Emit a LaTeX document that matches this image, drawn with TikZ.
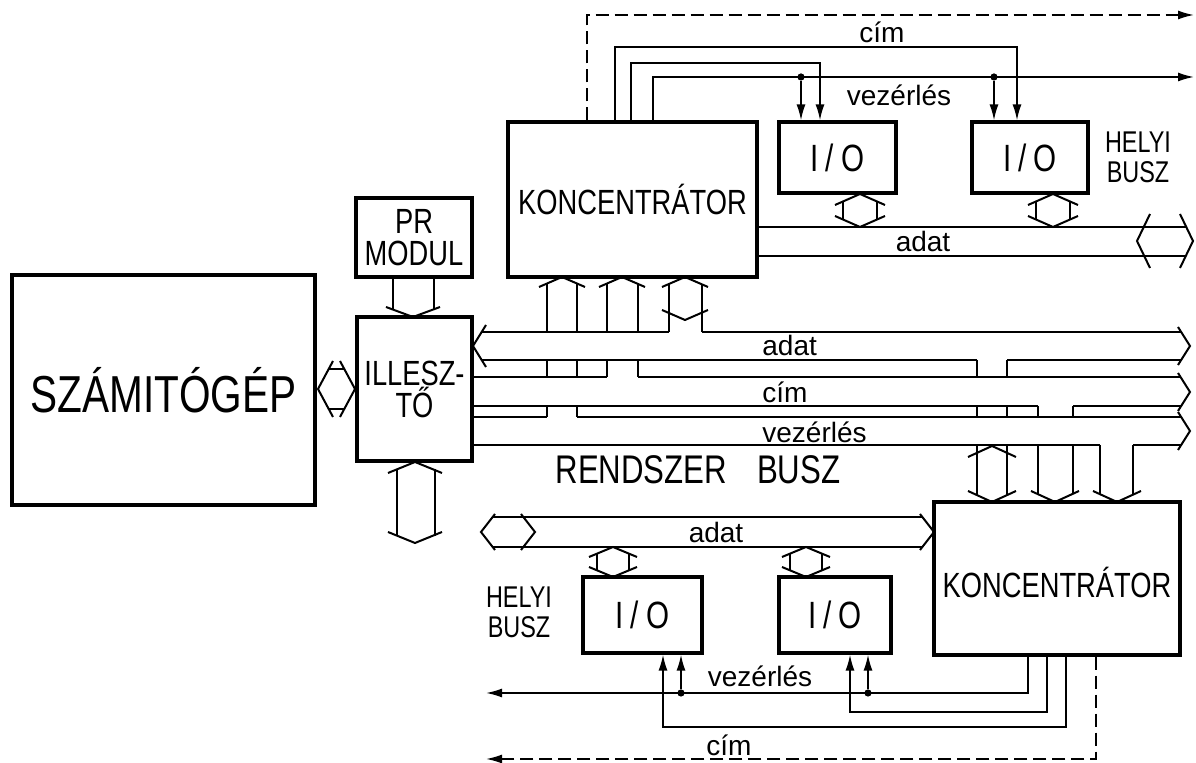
\documentclass[tikz,border=0pt]{standalone}
\usepackage{fontspec}
\setmainfont{Liberation Sans}
\newfontfamily\drawfont{Liberation Sans}[FakeStretch=0.78]
\usetikzlibrary{arrows.meta,fit}
\tikzset{
  % --- blocks ----------------------------------------------------------------
  blk/.style={draw,line width=1.6pt,inner sep=0pt},
  blktxt/.style={inner sep=0pt,align=center,
                 font=\drawfont\fontsize{17.5}{16}\selectfont},
  bigtxt/.style={blktxt,font=\drawfont\fontsize{26}{28}\selectfont},
  iotxt/.style={blktxt,font=\drawfont\fontsize{19}{20}\selectfont},
  % --- texts -----------------------------------------------------------------
  lbl/.style={inner sep=0pt,font=\fontsize{14}{16}\selectfont},
  capl/.style={inner sep=0pt,align=center,font=\drawfont\fontsize{15}{15}\selectfont},
  title/.style={inner sep=0pt,font=\drawfont\fontsize{20}{22}\selectfont},
  % --- lines -----------------------------------------------------------------
  bus/.style={line width=1pt},
  wire/.style={line width=0.85pt},
  sig/.style={wire,-{Latex[length=8pt,width=4.5pt]}},
  cue/.style={sig,dash pattern=on 6.5pt off 3pt},
  dot/.style={circle,fill,inner sep=0pt,minimum size=3.6pt},
}
% chevron heads of the wide bus arrows: tip (x,y), half spread, depth
\newcommand{\chv}[4]{\draw[bus] ({#1-(#3)},{#2+(#4)}) -- (#1,#2) -- ({#1+(#3)},{#2+(#4)});}
\newcommand{\chh}[4]{\draw[bus] ({#1+(#3)},{#2-(#4)}) -- (#1,#2) -- ({#1+(#3)},{#2+(#4)});}

\begin{document}
\begin{tikzpicture}[x=0.5pt, y=-0.5pt]
  \useasboundingbox (0,0) rectangle (1196,763);

  % blocks
  \node[blk,fit={(12,275) (315,505)}]   (comp) {};
  \node[blk,fit={(356,198) (472,277)}]  (pr)   {};
  \node[blk,fit={(357,317) (472,461)}]  (ill)  {};
  \node[blk,fit={(508,122) (757,277)}]  (k1)   {};
  \node[blk,fit={(934,502) (1180,655)}] (k2)   {};
  \node[blk,fit={(779,122) (896,193)}]  (io1)  {};
  \node[blk,fit={(972,122) (1088,193)}] (io2)  {};
  \node[blk,fit={(583,577) (702,653)}]  (io3)  {};
  \node[blk,fit={(779,577) (891,653)}]  (io4)  {};
  \node[bigtxt] (compT) at (comp.center) {SZÁMITÓGÉP};
  \node[blktxt] (prT)   at (pr.center)   {PR\\MODUL};
  \node[blktxt] (illT)  at (ill.center)  {ILLESZ-\\TŐ};
  \node[blktxt] (k1T)   at (k1.center)   {KONCENTRÁTOR};
  \node[blktxt] (k2T)   at (1057,583)    {KONCENTRÁTOR};
  \foreach \b in {io1,io2,io3,io4}
    \node[iotxt] (\b T) at (\b.center) {I\kern3.5pt/\kern3.5pt O};

  % computer <-> interface, module -> interface, interface <-> outside
  \chh{318}{389}{15}{28} \chh{355}{389}{-15}{28}
  \draw[bus] (329,369) -- (344,369) (329,409) -- (344,409);
  \draw[bus] (pr.south -| 393,0) -- (393,309) (pr.south -| 434,0) -- (434,309);
  \chv{413}{317}{27}{-10}
  \chv{415}{462}{27}{11} \chv{415}{543}{27}{-11}
  \draw[bus] (397,469) -- (397,536) (435,469) -- (435,536);

  % system bus: adat, cim, vezerles lanes
  \chh{473}{346}{13}{21}
  \draw[bus] (481,332) -- (669,332) (702,332) -- (1181,332);
  \draw[bus] (482,360) -- (977,360) (1007,360) -- (1181,360);
  \draw[bus] (ill.east |- 0,377) -- (607,377) (638,377) -- (1181,377);
  \draw[bus] (ill.east |- 0,406) -- (1038,406) (1073,406) -- (1181,406);
  \draw[bus] (ill.east |- 0,417) -- (547,417) (577,417) -- (1181,417);
  \draw[bus] (ill.east |- 0,445) -- (1100,445) (1133,445) -- (1181,445);
  \chh{1190}{346}{-12}{19} \chh{1190}{392}{-12}{19} \chh{1190}{431}{-12}{19}
  \node[lbl,anchor=west] (lAdat) at (762,346) {adat};
  \node[lbl,anchor=west] (lCim)  at (762,392) {cím};
  \node[lbl,anchor=west] (lVez)  at (762,432) {vezérlés};
  \node[title] (rbus) at (698,470) {RENDSZER\hspace{15pt}BUSZ};

  % upper concentrator taps
  \chv{562}{277}{23}{10} \chv{622}{277}{23}{10} \chv{685}{277}{23}{10}
  \chv{685}{320}{23}{-10}
  \foreach \x in {547,577} \draw[bus] (\x,284) -- (\x,332) (\x,360) -- (\x,377) (\x,406) -- (\x,417);
  \foreach \x in {607,638} \draw[bus] (\x,284) -- (\x,332) (\x,360) -- (\x,377);
  \foreach \x in {669,702} \draw[bus] (\x,284) -- (\x,332);

  % lower concentrator taps
  \chv{992}{446}{24}{11}
  \chv{992}{502}{24}{-11} \chv{1055}{502}{24}{-11} \chv{1117}{502}{24}{-11}
  \foreach \x in {977,1007} \draw[bus] (\x,360) -- (\x,377) (\x,406) -- (\x,417) (\x,445) -- (\x,495);
  \foreach \x in {1038,1073} \draw[bus] (\x,406) -- (\x,417) (\x,445) -- (\x,494);
  \foreach \x in {1100,1133} \draw[bus] (\x,445) -- (\x,494);

  % upper local bus
  \draw[bus] (k1.east |- 0,227) -- (1186,227) (k1.east |- 0,256) -- (1186,256);
  \chh{1137}{241}{13}{27} \chh{1193}{241}{-13}{27}
  \node[lbl] (lAdatT) at (923,242) {adat};
  \foreach \c in {860,1053} {
    \chv{\c}{194}{25}{11} \chv{\c}{227}{25}{-11}
    \draw[bus] (\c-17,201.5) -- (\c-17,219.5) (\c+17,201.5) -- (\c+17,219.5);
  }
  \node[capl] (hbT) at (1138,157) {HELYI\\BUSZ};

  % lower local bus
  \draw[bus] (493,517) -- (922,517) (493,547) -- (922,547);
  \chh{481}{532}{14}{18} \chh{535}{532}{-14}{18} \chh{934}{532}{-14}{18}
  \node[lbl] (lAdatB) at (716,532) {adat};
  \foreach \c in {613,806} {
    \chv{\c}{547}{24}{10} \chv{\c}{577}{24}{-10}
    \draw[bus] (\c-16,554) -- (\c-16,570) (\c+16,554) -- (\c+16,570);
  }
  \node[capl] (hbB) at (519,612) {HELYI\\BUSZ};

  % upper control and address lines
  \coordinate (cimR) at (1194,15); \coordinate (vezR) at (1194,77);
  \draw[cue] (k1.north -| 587,0) |- (cimR);
  \draw[sig] (k1.north -| 615,0) |- (1017,47) -- (io2.north -| 1017,0);
  \draw[sig] (k1.north -| 631,0) |- (820,63) -- (io1.north -| 820,0);
  \draw[sig] (k1.north -| 653,0) |- (vezR);
  \node[dot] (d1) at (801,77) {}; \draw[sig] (d1) -- (io1.north -| d1);
  \node[dot] (d2) at (994,77) {}; \draw[sig] (d2) -- (io2.north -| d2);
  \node[lbl] (lCimT) at (882,32) {cím};
  \node[lbl] (lVezT) at (899,95) {vezérlés};

  % lower control and address lines
  \coordinate (vezL) at (486,693); \coordinate (cimL) at (486,759);
  \draw[sig] (k2.south -| 1028,0) |- (vezL);
  \draw[sig] (k2.south -| 1047,0) |- (850,712) -- (io4.south -| 850,0);
  \draw[sig] (k2.south -| 1066,0) |- (663,727) -- (io3.south -| 663,0);
  \draw[cue] (k2.south -| 1096,0) |- (cimL);
  \node[dot] (d3) at (681,693) {}; \draw[sig] (d3) -- (io3.south -| d3);
  \node[dot] (d4) at (868,693) {}; \draw[sig] (d4) -- (io4.south -| d4);
  \node[lbl] (lVezB) at (760,676) {vezérlés};
  \node[lbl] (lCimB) at (729,745) {cím};
\end{tikzpicture}
\end{document}
